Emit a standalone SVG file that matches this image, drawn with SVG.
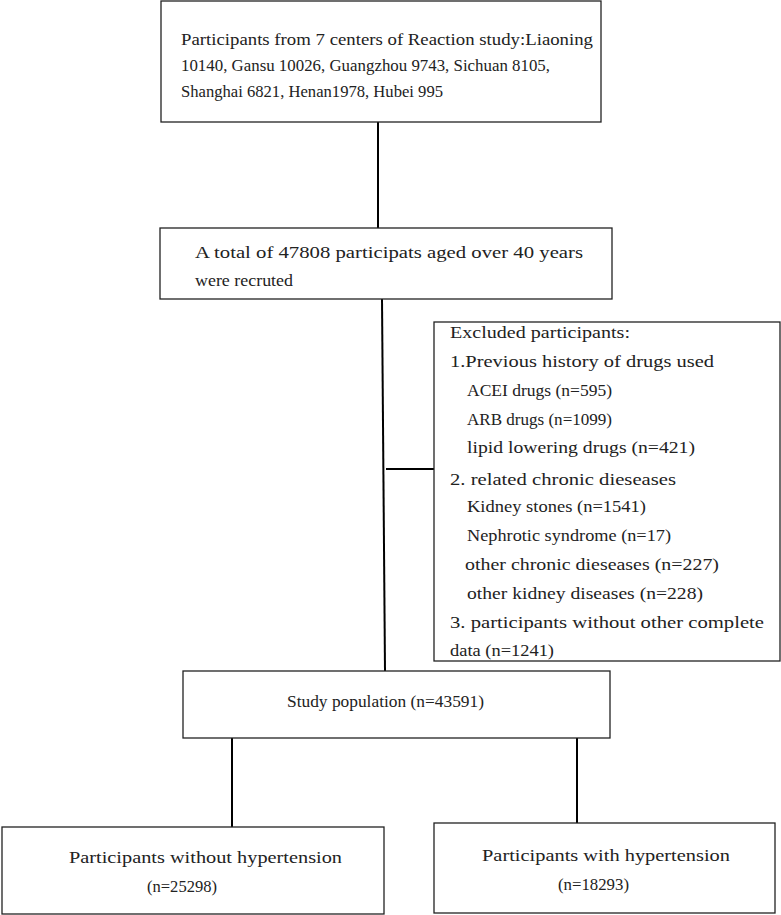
<svg xmlns="http://www.w3.org/2000/svg" width="781" height="915" viewBox="0 0 781 915">
<style>
.box{fill:#fff;stroke:#222;stroke-width:1.3}
.t{font-family:"Liberation Serif","Noto Sans CJK SC",serif;font-size:16.5px;fill:#222}
.c{stroke:#000;stroke-width:2;fill:none}
</style>
<rect width="781" height="915" fill="#fff"/>
<g id="connectors">
<line class="c" x1="378" y1="122" x2="378" y2="228"/>
<line class="c" x1="382" y1="299" x2="385" y2="671"/>
<line class="c" x1="386" y1="469" x2="434" y2="469"/>
<line class="c" x1="232" y1="738" x2="232" y2="827"/>
<line class="c" x1="577" y1="738" x2="577" y2="823"/>
</g>
<g id="n1">
<rect class="box" x="161" y="1" width="440" height="121"/>
<text class="t" x="181" y="45" textLength="412" lengthAdjust="spacingAndGlyphs">Participants from 7 centers of Reaction study:Liaoning</text>
<text class="t" x="181" y="71" textLength="369" lengthAdjust="spacingAndGlyphs">10140,  Gansu 10026, Guangzhou 9743, Sichuan 8105,</text>
<text class="t" x="181" y="97" textLength="262" lengthAdjust="spacingAndGlyphs">Shanghai 6821, Henan1978, Hubei 995</text>
</g>
<g id="n2">
<rect class="box" x="160" y="228" width="452" height="71"/>
<text class="t" x="195" y="258" textLength="388" lengthAdjust="spacingAndGlyphs">A total of 47808 participats aged over 40 years</text>
<text class="t" x="195" y="286" textLength="98" lengthAdjust="spacingAndGlyphs">were recruted</text>
</g>
<g id="n3">
<rect class="box" x="434" y="322" width="346" height="339"/>
<text class="t" x="450" y="338" textLength="180" lengthAdjust="spacingAndGlyphs">Excluded participants:</text>
<text class="t" x="450" y="367" textLength="264" lengthAdjust="spacingAndGlyphs">1.Previous history of drugs used</text>
<text class="t" x="467" y="396" textLength="145" lengthAdjust="spacingAndGlyphs">ACEI drugs (n=595)</text>
<text class="t" x="467" y="425" textLength="145" lengthAdjust="spacingAndGlyphs">ARB drugs (n=1099)</text>
<text class="t" x="467" y="453" textLength="228" lengthAdjust="spacingAndGlyphs">lipid lowering drugs (n=421)</text>
<text class="t" x="450" y="485" textLength="226" lengthAdjust="spacingAndGlyphs">2. related chronic dieseases</text>
<text class="t" x="467" y="512" textLength="179" lengthAdjust="spacingAndGlyphs">Kidney stones (n=1541)</text>
<text class="t" x="467" y="541" textLength="204" lengthAdjust="spacingAndGlyphs">Nephrotic syndrome (n=17)</text>
<text class="t" x="465" y="570" textLength="254" lengthAdjust="spacingAndGlyphs">other chronic dieseases (n=227)</text>
<text class="t" x="467" y="599" textLength="236" lengthAdjust="spacingAndGlyphs">other kidney diseases (n=228)</text>
<text class="t" x="450" y="628" textLength="314" lengthAdjust="spacingAndGlyphs">3. participants without other complete</text>
<text class="t" x="450" y="656" textLength="104" lengthAdjust="spacingAndGlyphs">data (n=1241)</text>
</g>
<g id="n4">
<rect class="box" x="183" y="671" width="427" height="67"/>
<text class="t" x="287" y="707" textLength="197" lengthAdjust="spacingAndGlyphs">Study population (n=43591)</text>
</g>
<g id="n5">
<rect class="box" x="2" y="827" width="382" height="87"/>
<text class="t" x="69" y="863" textLength="273" lengthAdjust="spacingAndGlyphs">Participants without hypertension</text>
<text class="t" x="147" y="892" textLength="70" lengthAdjust="spacingAndGlyphs">(n=25298)</text>
</g>
<g id="n6">
<rect class="box" x="434" y="823" width="341" height="90"/>
<text class="t" x="482" y="861" textLength="248" lengthAdjust="spacingAndGlyphs">Participants with hypertension</text>
<text class="t" x="558" y="890" textLength="71" lengthAdjust="spacingAndGlyphs">(n=18293)</text>
</g>
</svg>
